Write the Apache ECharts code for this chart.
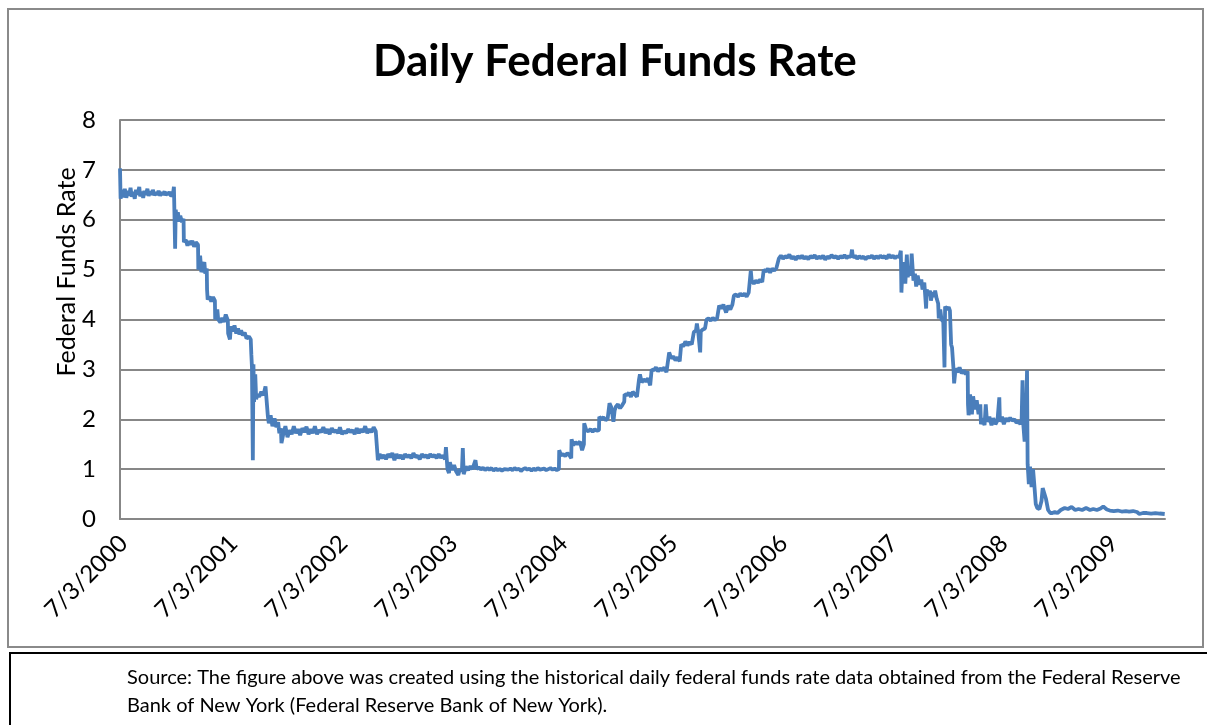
<!DOCTYPE html>
<html>
<head>
<meta charset="utf-8">
<title>Daily Federal Funds Rate</title>
<script src="https://cdn.jsdelivr.net/npm/echarts@6/dist/echarts.min.js"></script>
<style>
  html, body { margin: 0; padding: 0; background: #fff; }
  #chart { width: 1207px; height: 725px; }
</style>
</head>
<body>
<div id="chart"></div>
<script>
// Daily effective federal funds rate, [observation date, percent]
const rates2000 = [
  ['2000-07-03', 7.03], ['2000-07-05', 6.42], ['2000-07-10', 6.6], ['2000-07-14', 6.45], ['2000-07-19', 6.62],
  ['2000-07-24', 6.44], ['2000-07-28', 6.58], ['2000-08-02', 6.48], ['2000-08-07', 6.64], ['2000-08-11', 6.46],
  ['2000-08-16', 6.56], ['2000-08-21', 6.42], ['2000-08-25', 6.6], ['2000-08-30', 6.5], ['2000-09-05', 6.66],
  ['2000-09-08', 6.47], ['2000-09-13', 6.56], ['2000-09-18', 6.44], ['2000-09-22', 6.58], ['2000-09-27', 6.5],
  ['2000-10-02', 6.62], ['2000-10-06', 6.48], ['2000-10-11', 6.57], ['2000-10-16', 6.5], ['2000-10-20', 6.6],
  ['2000-10-25', 6.49], ['2000-10-30', 6.55], ['2000-11-03', 6.5], ['2000-11-08', 6.58], ['2000-11-13', 6.48],
  ['2000-11-17', 6.55], ['2000-11-22', 6.5], ['2000-11-28', 6.57], ['2000-12-01', 6.49], ['2000-12-06', 6.55],
  ['2000-12-11', 6.5], ['2000-12-15', 6.56], ['2000-12-20', 6.47], ['2000-12-26', 6.52], ['2000-12-29', 6.66]
];
const rates2001 = [
  ['2001-01-02', 5.42], ['2001-01-04', 6.2], ['2001-01-08', 5.98], ['2001-01-11', 6.15], ['2001-01-16', 5.96],
  ['2001-01-19', 6.08], ['2001-01-25', 5.95], ['2001-01-30', 6.02], ['2001-01-31', 5.55], ['2001-02-06', 5.6],
  ['2001-02-12', 5.48], ['2001-02-16', 5.57], ['2001-02-22', 5.5], ['2001-02-28', 5.58], ['2001-03-06', 5.46],
  ['2001-03-12', 5.55], ['2001-03-19', 5.5], ['2001-03-20', 5.0], ['2001-03-26', 5.28], ['2001-03-30', 4.95],
  ['2001-04-04', 5.05], ['2001-04-09', 5.15], ['2001-04-12', 4.92], ['2001-04-17', 5.02], ['2001-04-18', 4.6],
  ['2001-04-20', 4.4], ['2001-04-26', 4.46], ['2001-05-02', 4.36], ['2001-05-08', 4.45], ['2001-05-14', 4.38],
  ['2001-05-15', 4.0], ['2001-05-18', 3.96], ['2001-05-22', 4.2], ['2001-05-25', 4.0], ['2001-06-01', 3.94],
  ['2001-06-07', 4.03], ['2001-06-13', 3.95], ['2001-06-19', 4.1], ['2001-06-26', 3.98], ['2001-06-27', 3.72],
  ['2001-07-03', 3.6], ['2001-07-06', 3.86], ['2001-07-12', 3.76], ['2001-07-18', 3.88], ['2001-07-24', 3.72],
  ['2001-07-30', 3.82], ['2001-08-03', 3.7], ['2001-08-09', 3.78], ['2001-08-15', 3.68], ['2001-08-21', 3.74],
  ['2001-08-27', 3.62], ['2001-09-04', 3.66], ['2001-09-10', 3.6], ['2001-09-12', 3.3], ['2001-09-14', 3.05],
  ['2001-09-17', 1.18], ['2001-09-19', 3.1], ['2001-09-21', 2.35], ['2001-09-25', 2.9], ['2001-09-28', 2.4],
  ['2001-10-02', 2.5], ['2001-10-08', 2.45], ['2001-10-15', 2.55], ['2001-10-22', 2.48], ['2001-10-29', 2.66],
  ['2001-11-06', 2.05], ['2001-11-09', 1.92], ['2001-11-15', 2.08], ['2001-11-21', 1.86], ['2001-11-28', 2.02],
  ['2001-12-04', 1.84], ['2001-12-10', 1.94], ['2001-12-14', 1.72], ['2001-12-19', 1.82], ['2001-12-21', 1.52],
  ['2001-12-27', 1.7]
];
const rates2002 = [
  ['2002-01-03', 1.86], ['2002-01-10', 1.64], ['2002-01-17', 1.78], ['2002-01-24', 1.7], ['2002-01-31', 1.86],
  ['2002-02-07', 1.72], ['2002-02-14', 1.8], ['2002-02-21', 1.68], ['2002-02-28', 1.82], ['2002-03-07', 1.74],
  ['2002-03-14', 1.85], ['2002-03-21', 1.7], ['2002-03-28', 1.8], ['2002-04-04', 1.72], ['2002-04-11', 1.86],
  ['2002-04-18', 1.7], ['2002-04-25', 1.78], ['2002-05-02', 1.74], ['2002-05-09', 1.84], ['2002-05-16', 1.72],
  ['2002-05-23', 1.8], ['2002-05-30', 1.7], ['2002-06-06', 1.82], ['2002-06-13', 1.74], ['2002-06-20', 1.78],
  ['2002-06-27', 1.72], ['2002-07-03', 1.84], ['2002-07-10', 1.7], ['2002-07-17', 1.76], ['2002-07-24', 1.72],
  ['2002-07-31', 1.8], ['2002-08-07', 1.74], ['2002-08-14', 1.78], ['2002-08-21', 1.7], ['2002-08-28', 1.82],
  ['2002-09-04', 1.72], ['2002-09-11', 1.8], ['2002-09-18', 1.74], ['2002-09-25', 1.86], ['2002-10-02', 1.72],
  ['2002-10-09', 1.8], ['2002-10-16', 1.74], ['2002-10-23', 1.84], ['2002-10-30', 1.76], ['2002-11-05', 1.8],
  ['2002-11-06', 1.18], ['2002-11-12', 1.3], ['2002-11-19', 1.22], ['2002-11-26', 1.28], ['2002-12-03', 1.2],
  ['2002-12-10', 1.3], ['2002-12-17', 1.24], ['2002-12-24', 1.32], ['2002-12-31', 1.18]
];
const rates2003 = [
  ['2003-01-07', 1.3], ['2003-01-14', 1.22], ['2003-01-21', 1.28], ['2003-01-28', 1.2], ['2003-02-04', 1.3],
  ['2003-02-11', 1.24], ['2003-02-18', 1.28], ['2003-02-25', 1.22], ['2003-03-04', 1.32], ['2003-03-11', 1.24],
  ['2003-03-18', 1.27], ['2003-03-25', 1.2], ['2003-04-01', 1.3], ['2003-04-08', 1.24], ['2003-04-15', 1.28],
  ['2003-04-22', 1.22], ['2003-04-29', 1.3], ['2003-05-06', 1.25], ['2003-05-13', 1.28], ['2003-05-20', 1.22],
  ['2003-05-27', 1.3], ['2003-06-03', 1.23], ['2003-06-10', 1.27], ['2003-06-17', 1.2], ['2003-06-20', 1.44],
  ['2003-06-25', 1.0], ['2003-06-30', 0.92], ['2003-07-03', 1.14], ['2003-07-10', 0.98], ['2003-07-17', 1.08],
  ['2003-07-24', 0.95], ['2003-07-31', 0.88], ['2003-08-05', 1.0], ['2003-08-12', 0.96], ['2003-08-15', 1.42],
  ['2003-08-18', 0.9], ['2003-08-25', 1.05], ['2003-09-02', 0.98], ['2003-09-09', 1.06], ['2003-09-16', 1.0],
  ['2003-09-26', 1.18], ['2003-09-30', 1.0], ['2003-10-07', 1.04], ['2003-10-14', 0.99], ['2003-10-21', 1.03],
  ['2003-10-28', 0.98], ['2003-11-04', 1.02], ['2003-11-11', 0.99], ['2003-11-18', 1.02], ['2003-11-25', 0.97],
  ['2003-12-02', 1.01], ['2003-12-09', 0.98], ['2003-12-16', 1.0], ['2003-12-23', 0.97], ['2003-12-31', 1.0]
];
const rates2004 = [
  ['2004-01-06', 1.02], ['2004-01-13', 0.99], ['2004-01-20', 1.01], ['2004-01-27', 0.98], ['2004-02-03', 1.02],
  ['2004-02-10', 0.99], ['2004-02-17', 1.01], ['2004-02-24', 0.96], ['2004-03-02', 1.0], ['2004-03-09', 1.02],
  ['2004-03-16', 0.99], ['2004-03-23', 1.01], ['2004-03-30', 0.97], ['2004-04-06', 1.01], ['2004-04-13', 0.98],
  ['2004-04-20', 1.02], ['2004-04-27', 0.99], ['2004-05-04', 1.0], ['2004-05-11', 1.01], ['2004-05-18', 0.98],
  ['2004-05-25', 1.0], ['2004-06-01', 1.02], ['2004-06-08', 0.99], ['2004-06-15', 1.01], ['2004-06-22', 0.98],
  ['2004-06-29', 1.0], ['2004-06-30', 1.38], ['2004-07-06', 1.28], ['2004-07-13', 1.3], ['2004-07-20', 1.26],
  ['2004-07-27', 1.32], ['2004-08-03', 1.28], ['2004-08-09', 1.22], ['2004-08-10', 1.6], ['2004-08-16', 1.48],
  ['2004-08-23', 1.54], ['2004-08-30', 1.5], ['2004-09-07', 1.55], ['2004-09-14', 1.38], ['2004-09-20', 1.5],
  ['2004-09-21', 1.92], ['2004-09-28', 1.78], ['2004-10-05', 1.76], ['2004-10-12', 1.8], ['2004-10-19', 1.75],
  ['2004-10-26', 1.8], ['2004-11-02', 1.77], ['2004-11-09', 1.78], ['2004-11-10', 2.05], ['2004-11-17', 2.0],
  ['2004-11-24', 2.04], ['2004-12-01', 1.98], ['2004-12-08', 2.02], ['2004-12-14', 2.32], ['2004-12-20', 2.24],
  ['2004-12-27', 1.95], ['2004-12-31', 2.18]
];
const rates2005 = [
  ['2005-01-04', 2.25], ['2005-01-11', 2.3], ['2005-01-18', 2.22], ['2005-01-25', 2.28], ['2005-02-01', 2.35],
  ['2005-02-02', 2.5], ['2005-02-09', 2.48], ['2005-02-16', 2.53], ['2005-02-23', 2.45], ['2005-03-01', 2.55],
  ['2005-03-08', 2.5], ['2005-03-15', 2.45], ['2005-03-22', 2.8], ['2005-03-25', 2.9], ['2005-03-31', 2.74],
  ['2005-04-07', 2.8], ['2005-04-14', 2.76], ['2005-04-21', 2.82], ['2005-04-28', 2.68], ['2005-05-03', 3.0],
  ['2005-05-10', 2.98], ['2005-05-17', 3.04], ['2005-05-24', 2.96], ['2005-05-31', 3.02], ['2005-06-07', 2.98],
  ['2005-06-14', 3.04], ['2005-06-21', 2.94], ['2005-06-27', 2.94], ['2005-06-30', 3.34], ['2005-07-07', 3.22],
  ['2005-07-14', 3.26], ['2005-07-21', 3.18], ['2005-07-28', 3.24], ['2005-08-04', 3.16], ['2005-08-09', 3.5],
  ['2005-08-16', 3.46], ['2005-08-23', 3.56], ['2005-08-30', 3.48], ['2005-09-06', 3.55], ['2005-09-13', 3.5],
  ['2005-09-20', 3.75], ['2005-09-27', 3.78], ['2005-09-30', 3.92], ['2005-10-05', 3.72], ['2005-10-11', 3.34],
  ['2005-10-13', 3.76], ['2005-10-20', 3.8], ['2005-10-27', 3.82], ['2005-11-01', 4.0], ['2005-11-08', 4.02],
  ['2005-11-15', 3.98], ['2005-11-22', 4.03], ['2005-11-29', 3.99], ['2005-12-06', 4.02], ['2005-12-13', 4.28],
  ['2005-12-20', 4.22], ['2005-12-27', 4.3]
];
const rates2006 = [
  ['2006-01-05', 4.14], ['2006-01-12', 4.28], ['2006-01-19', 4.2], ['2006-01-26', 4.3], ['2006-01-31', 4.48],
  ['2006-02-07', 4.5], ['2006-02-14', 4.46], ['2006-02-21', 4.52], ['2006-02-28', 4.48], ['2006-03-07', 4.52],
  ['2006-03-14', 4.46], ['2006-03-21', 4.54], ['2006-03-28', 4.98], ['2006-03-31', 4.78], ['2006-04-07', 4.72],
  ['2006-04-14', 4.78], ['2006-04-21', 4.74], ['2006-04-28', 4.8], ['2006-05-05', 4.75], ['2006-05-10', 5.0],
  ['2006-05-17', 4.96], ['2006-05-24', 5.02], ['2006-05-31', 4.94], ['2006-06-07', 5.02], ['2006-06-14', 4.98],
  ['2006-06-21', 5.03], ['2006-06-29', 5.22], ['2006-07-06', 5.28], ['2006-07-13', 5.22], ['2006-07-20', 5.27],
  ['2006-07-27', 5.24], ['2006-08-03', 5.3], ['2006-08-10', 5.22], ['2006-08-17', 5.26], ['2006-08-24', 5.2],
  ['2006-08-31', 5.27], ['2006-09-07', 5.23], ['2006-09-14', 5.28], ['2006-09-21', 5.22], ['2006-09-28', 5.26],
  ['2006-10-05', 5.21], ['2006-10-12', 5.27], ['2006-10-19', 5.24], ['2006-10-26', 5.29], ['2006-11-02', 5.22],
  ['2006-11-09', 5.26], ['2006-11-16', 5.23], ['2006-11-23', 5.28], ['2006-11-30', 5.2], ['2006-12-07', 5.26],
  ['2006-12-14', 5.23], ['2006-12-21', 5.29], ['2006-12-29', 5.24]
];
const rates2007 = [
  ['2007-01-05', 5.27], ['2007-01-12', 5.22], ['2007-01-19', 5.27], ['2007-01-26', 5.24], ['2007-02-02', 5.29],
  ['2007-02-09', 5.23], ['2007-02-16', 5.27], ['2007-02-23', 5.25], ['2007-02-27', 5.4], ['2007-03-02', 5.24],
  ['2007-03-09', 5.28], ['2007-03-16', 5.22], ['2007-03-23', 5.27], ['2007-03-30', 5.23], ['2007-04-06', 5.26],
  ['2007-04-13', 5.21], ['2007-04-20', 5.26], ['2007-04-27', 5.24], ['2007-05-04', 5.28], ['2007-05-11', 5.22],
  ['2007-05-18', 5.27], ['2007-05-25', 5.23], ['2007-06-01', 5.28], ['2007-06-08', 5.24], ['2007-06-15', 5.27],
  ['2007-06-22', 5.22], ['2007-06-29', 5.3], ['2007-07-06', 5.24], ['2007-07-13', 5.28], ['2007-07-20', 5.23],
  ['2007-07-27', 5.27], ['2007-08-03', 5.25], ['2007-08-08', 5.38], ['2007-08-10', 4.54], ['2007-08-14', 5.1],
  ['2007-08-16', 4.8], ['2007-08-20', 5.15], ['2007-08-23', 4.72], ['2007-08-28', 5.3], ['2007-08-31', 4.85],
  ['2007-09-05', 5.05], ['2007-09-10', 4.88], ['2007-09-13', 5.32], ['2007-09-17', 4.95], ['2007-09-19', 4.78],
  ['2007-09-24', 4.92], ['2007-09-28', 4.66], ['2007-10-03', 4.88], ['2007-10-09', 4.7], ['2007-10-15', 4.8],
  ['2007-10-19', 4.6], ['2007-10-25', 4.74], ['2007-10-31', 4.22], ['2007-11-02', 4.6], ['2007-11-07', 4.48],
  ['2007-11-13', 4.58], ['2007-11-16', 4.38], ['2007-11-21', 4.55], ['2007-11-27', 4.45], ['2007-11-30', 4.58],
  ['2007-12-05', 4.42], ['2007-12-10', 4.32], ['2007-12-12', 4.02], ['2007-12-17', 4.2], ['2007-12-21', 4.0],
  ['2007-12-27', 3.95], ['2007-12-31', 3.04]
];
const rates2008 = [
  ['2008-01-02', 4.26], ['2008-01-08', 4.2], ['2008-01-14', 4.25], ['2008-01-18', 4.18], ['2008-01-22', 3.5],
  ['2008-01-25', 3.44], ['2008-01-30', 3.0], ['2008-02-01', 2.72], ['2008-02-06', 3.02], ['2008-02-12', 2.94],
  ['2008-02-19', 3.04], ['2008-02-26', 2.92], ['2008-03-04', 2.98], ['2008-03-11', 2.9], ['2008-03-17', 2.96],
  ['2008-03-18', 2.3], ['2008-03-20', 2.08], ['2008-03-25', 2.5], ['2008-03-31', 2.1], ['2008-04-04', 2.46],
  ['2008-04-10', 2.2], ['2008-04-16', 2.38], ['2008-04-22', 2.1], ['2008-04-28', 2.3], ['2008-04-30', 1.9],
  ['2008-05-06', 2.02], ['2008-05-12', 1.88], ['2008-05-16', 2.3], ['2008-05-20', 1.95], ['2008-05-28', 2.05],
  ['2008-06-04', 1.88], ['2008-06-10', 2.02], ['2008-06-17', 1.9], ['2008-06-24', 1.98], ['2008-06-30', 2.44],
  ['2008-07-02', 1.95], ['2008-07-09', 2.05], ['2008-07-15', 1.9], ['2008-07-22', 2.02], ['2008-07-29', 1.96],
  ['2008-08-05', 2.03], ['2008-08-12', 1.97], ['2008-08-19', 2.0], ['2008-08-26', 1.93], ['2008-09-02', 1.96],
  ['2008-09-08', 1.9], ['2008-09-12', 1.98], ['2008-09-15', 2.78], ['2008-09-17', 1.95], ['2008-09-22', 1.55],
  ['2008-09-26', 1.9], ['2008-09-30', 2.98], ['2008-10-02', 1.1], ['2008-10-06', 0.7], ['2008-10-10', 1.05],
  ['2008-10-15', 0.64], ['2008-10-20', 1.0], ['2008-10-24', 0.7], ['2008-10-29', 0.3], ['2008-11-03', 0.22],
  ['2008-11-10', 0.2], ['2008-11-17', 0.36], ['2008-11-21', 0.62], ['2008-11-26', 0.58], ['2008-12-02', 0.4],
  ['2008-12-09', 0.18], ['2008-12-16', 0.12], ['2008-12-23', 0.12], ['2008-12-31', 0.14]
];
const rates2009 = [
  ['2009-01-09', 0.12], ['2009-01-20', 0.18], ['2009-02-02', 0.22], ['2009-02-13', 0.2], ['2009-02-25', 0.24],
  ['2009-03-09', 0.18], ['2009-03-20', 0.2], ['2009-04-01', 0.18], ['2009-04-14', 0.22], ['2009-04-27', 0.18],
  ['2009-05-08', 0.2], ['2009-05-20', 0.18], ['2009-06-01', 0.21], ['2009-06-10', 0.25], ['2009-06-22', 0.19],
  ['2009-07-02', 0.17], ['2009-07-15', 0.16], ['2009-07-28', 0.17], ['2009-08-10', 0.15], ['2009-08-24', 0.16],
  ['2009-09-04', 0.15], ['2009-09-17', 0.16], ['2009-09-30', 0.14], ['2009-10-08', 0.1], ['2009-10-20', 0.12],
  ['2009-11-02', 0.12], ['2009-11-16', 0.11], ['2009-11-30', 0.12], ['2009-12-14', 0.11], ['2009-12-31', 0.1]
];

// Axis settings
const axisStart = '2000-07-03';
const axisEnd = '2010-01-01';
const xTickLabels = ['7/3/2000', '7/3/2001', '7/3/2002', '7/3/2003', '7/3/2004',
                     '7/3/2005', '7/3/2006', '7/3/2007', '7/3/2008', '7/3/2009'];
const yTickValues = [0, 1, 2, 3, 4, 5, 6, 7, 8];

const DAY = 86400000;
const YEAR_DAYS = 365.25;
const t0 = Date.parse(axisStart);
const dayOffset = d => (Date.parse(d) - t0) / DAY;

const allRates = [].concat(rates2000, rates2001, rates2002, rates2003, rates2004,
                           rates2005, rates2006, rates2007, rates2008, rates2009);
const seriesData = allRates.map(([d, v]) => [dayOffset(d), v]);

const FONT = 'Lato, Carlito, "Open Sans", sans-serif';
const GRID_GRAY = '#878787';

const chart = echarts.init(document.getElementById('chart'), null, { renderer: 'canvas' });

chart.setOption({
  animation: false,
  backgroundColor: '#ffffff',
  title: {
    text: 'Daily Federal Funds Rate',
    left: 368,
    top: 35,
    textStyle: { fontFamily: FONT, fontSize: 44, fontWeight: 'bold', color: '#000' }
  },
  grid: { left: 120, right: 42, top: 120, bottom: 206, containLabel: false },
  xAxis: {
    type: 'value',
    min: 0,
    max: dayOffset(axisEnd),
    interval: YEAR_DAYS,
    axisLine: { show: true, lineStyle: { color: GRID_GRAY, width: 2 } },
    axisTick: { show: false },
    splitLine: { show: false },
    axisLabel: {
      rotate: 45,
      margin: 7,
      verticalAlign: 'top',
      padding: [0, 7, 0, 0],
      fontFamily: FONT,
      fontSize: 24,
      color: '#000',
      showMaxLabel: false,
      formatter: v => {
        const k = Math.round(v / YEAR_DAYS);
        return Math.abs(v - k * YEAR_DAYS) < 1 && xTickLabels[k] ? xTickLabels[k] : '';
      }
    }
  },
  yAxis: {
    type: 'value',
    min: yTickValues[0],
    max: yTickValues[yTickValues.length - 1],
    interval: 1,
    axisLine: { show: true, lineStyle: { color: GRID_GRAY, width: 2 } },
    axisTick: { show: false },
    splitLine: { show: true, lineStyle: { color: GRID_GRAY, width: 2 } },
    axisLabel: { margin: 24, fontFamily: FONT, fontSize: 24, color: '#000' }
  },
  series: [{
    type: 'line',
    data: seriesData,
    showSymbol: false,
    smooth: false,
    lineStyle: { color: '#4A7EBB', width: 3.8 },
    itemStyle: { color: '#4A7EBB' }
  }],
  graphic: [
    // outer chart frame
    { type: 'rect', silent: true, z: -1,
      shape: { x: 8, y: 9, width: 1195, height: 638 },
      style: { fill: 'none', stroke: '#8a8a8a', lineWidth: 2 } },
    // y axis title
    { type: 'text', silent: true,
      x: 67, y: 272, rotation: Math.PI / 2,
      style: { text: 'Federal Funds Rate', fontFamily: FONT, fontSize: 25, fill: '#000',
               align: 'center', verticalAlign: 'middle' } },
    // source note box
    { type: 'rect', silent: true,
      shape: { x: 10, y: 653, width: 1210, height: 90 },
      style: { fill: 'none', stroke: '#000', lineWidth: 2 } },
    { type: 'text', silent: true, x: 127, y: 678,
      style: { text: 'Source: The figure above was created using the historical daily federal funds rate data obtained from the Federal Reserve',
               fontFamily: FONT, fontSize: 20, fill: '#000', verticalAlign: 'middle' } },
    { type: 'text', silent: true, x: 127, y: 706,
      style: { text: 'Bank of New York (Federal Reserve Bank of New York).',
               fontFamily: FONT, fontSize: 20, fill: '#000', verticalAlign: 'middle' } }
  ]
});
</script>
</body>
</html>
